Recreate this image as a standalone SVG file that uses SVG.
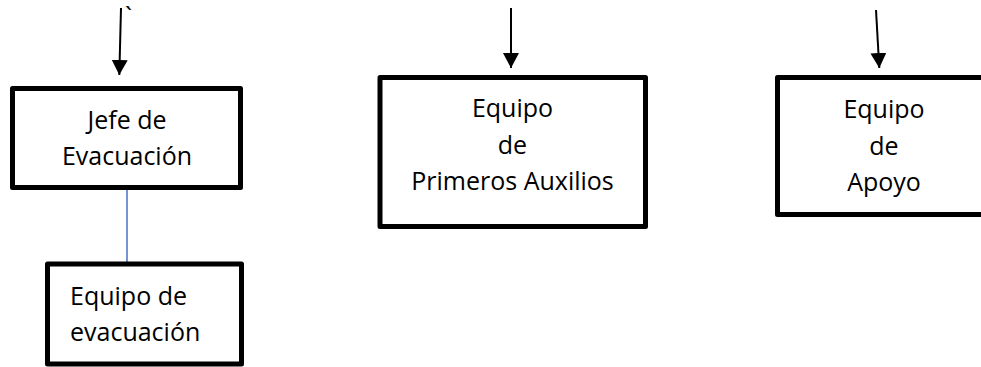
<svg xmlns="http://www.w3.org/2000/svg" width="981" height="367" viewBox="0 0 981 367">
<style>
.box{fill:#fff;stroke:#000;stroke-width:5;stroke-linejoin:round}
.t{font-family:"Open Sans","Liberation Sans",sans-serif;font-size:25px;fill:#000}
.c{text-anchor:middle}
.arr{stroke:#000;stroke-width:2;fill:none}
</style>
<defs>
<marker id="ah" markerUnits="userSpaceOnUse" markerWidth="16" markerHeight="16" viewBox="0 0 16 16" refX="15" refY="8" orient="auto">
<path d="M0,0 L15,8 L0,16 Z" fill="#000"/>
</marker>
</defs>
<rect width="981" height="367" fill="#fff"/>
<g id="connectors">
<line class="arr" x1="121" y1="8" x2="119.3" y2="75" marker-end="url(#ah)"/>
<line class="arr" x1="511" y1="8" x2="511" y2="68" marker-end="url(#ah)"/>
<line class="arr" x1="876" y1="10" x2="879.3" y2="68" marker-end="url(#ah)"/>
<line x1="127" y1="190" x2="127" y2="262" stroke="#4472C4" stroke-width="1.5"/>
</g>
<text class="t" x="125" y="26">`</text>
<g id="jefe">
<rect class="box" x="12.5" y="88.5" width="228" height="99"/>
<text class="t c" x="127" y="129">Jefe de</text>
<text class="t c" x="127" y="165">Evacuación</text>
</g>
<g id="equipo-evacuacion">
<rect class="box" x="47.5" y="264" width="194" height="100"/>
<text class="t" x="70" y="305">Equipo de</text>
<text class="t" x="70" y="341">evacuación</text>
</g>
<g id="primeros-auxilios">
<rect class="box" x="380" y="77.5" width="265.5" height="149"/>
<text class="t c" x="512.5" y="117">Equipo</text>
<text class="t c" x="512.5" y="153.5">de</text>
<text class="t c" x="512.5" y="190">Primeros Auxilios</text>
</g>
<g id="apoyo">
<rect class="box" x="777.5" y="77.5" width="220" height="137"/>
<text class="t c" x="884" y="118">Equipo</text>
<text class="t c" x="884" y="155">de</text>
<text class="t c" x="884" y="191">Apoyo</text>
</g>
</svg>
